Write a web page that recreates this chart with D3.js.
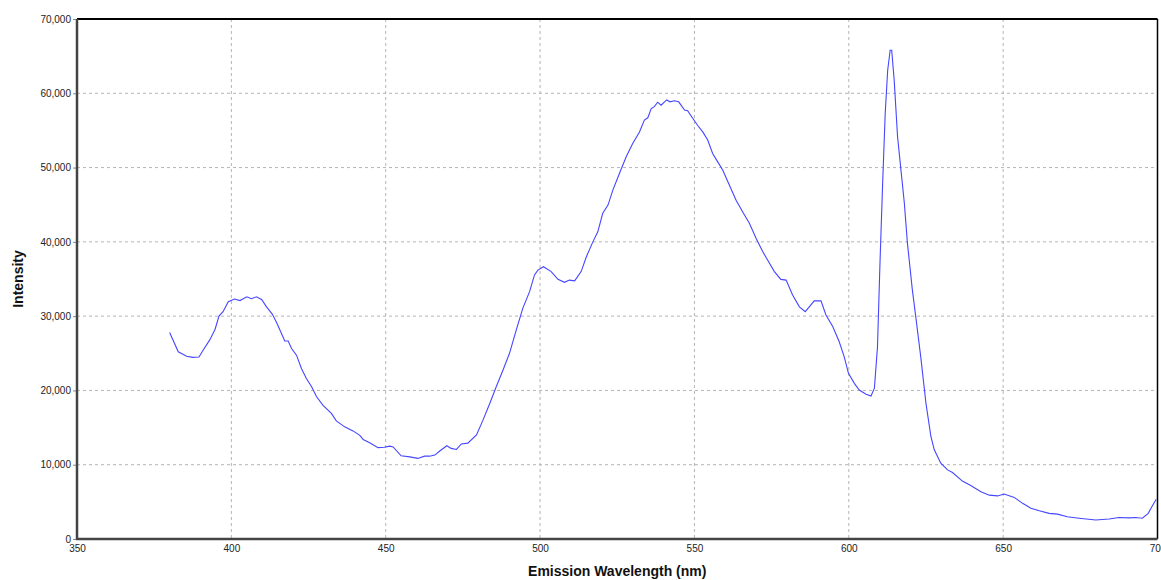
<!DOCTYPE html>
<html>
<head>
<meta charset="utf-8">
<script src="https://cdn.jsdelivr.net/npm/d3@7"></script>
<style>
  html, body { margin: 0; padding: 0; background: #fff; overflow: hidden; }
  svg { display: block; }
</style>
</head>
<body>
<div id="chart"></div>
<script>
// spectrum, wavelength (nm) / intensity
const wavelength = [
  380, 382.8, 385.5, 387.5, 389.5, 390.9, 393, 394.7, 396, 397.3, 399, 401, 402.8, 405, 406.5, 408.1,
  409.8, 411.4, 413.3, 414.8, 416.2, 417.3, 418.4, 419.5, 421.1, 422.7, 424.3, 426, 427.6, 429.7,
  432.4, 434, 436.7, 439.4, 441.6, 442.7, 444.8, 447.5, 449.5, 451.3, 452.4, 455, 457.8, 460.4,
  462.6, 464.2, 465.9, 467.5, 469.8, 471.2, 472.9, 474.5, 476.6, 479.4, 481.5, 483.7, 485.8, 488,
  490.1, 492.3, 494.4, 496.6, 498.2, 499.3, 501.1, 503.6, 505.8, 507.9, 509.5, 511.2, 513.3, 515,
  517.1, 518.7, 520.3, 522, 523.6, 525.7, 527.9, 530, 532.2, 533.8, 534.9, 536, 537, 538.1, 539.2,
  541, 542.1, 543.5, 544.9, 546.8, 547.8, 549.5, 551, 552.7, 554.3, 555.9, 557.5, 559.2, 561.3,
  563.5, 565.6, 567.8, 570, 572.1, 573.7, 575.9, 578, 579.7, 581.8, 584, 585.9, 587.2, 588.8, 591,
  592.6, 594.8, 596.9, 598.5, 599.9, 601.8, 603.4, 605.6, 607.2, 608.3, 609.3, 610.1, 611, 611.8,
  612.6, 613.4, 613.9, 614.7, 615.8, 616.9, 618, 619, 620.6, 621.7, 623.3, 625, 626.6, 627.7,
  629.8, 632, 633.6, 636.8, 639.5, 642.8, 645.5, 648.2, 650.3, 653.6, 656.3, 659, 661.7, 664.9,
  667.6, 670.8, 674.6, 680, 684.3, 687.5, 690.8, 692.9, 695.1, 697, 698.3, 699.6
]
const intensity = [
  27800, 25200, 24600, 24450, 24500, 25440, 26800, 28200, 30000, 30600, 31950, 32300, 32100, 32600, 32350, 32600,
  32250, 31250, 30250, 29000, 27700, 26650, 26650, 25650, 24750, 22950, 21600, 20500, 19150, 18000,
  16900, 15900, 15100, 14550, 13950, 13400, 12950, 12300, 12350, 12500, 12400, 11200, 11050, 10850,
  11150, 11150, 11300, 11850, 12550, 12200, 12050, 12800, 12900, 14000, 16000, 18250, 20500, 22750,
  25000, 28150, 31050, 33300, 35550, 36200, 36650, 36000, 34950, 34550, 34850, 34750, 36000, 38000,
  40000, 41350, 43850, 44950, 47000, 49200, 51450, 53250, 54800, 56400, 56700, 57950, 58200, 58800, 58400,
  59100, 58850, 59000, 58850, 57750, 57650, 56600, 55700, 54800, 53700, 51900, 50800, 49650, 47650,
  45600, 44050, 42500, 40450, 38700, 37550, 36000, 34950, 34850, 32850, 31250, 30600, 31250, 32050, 32050,
  30150, 28600, 26550, 24550, 22300, 20950, 20050, 19500, 19250, 20300, 25900, 37100, 48300, 57300,
  63100, 65800, 65800, 61800, 54150, 49650, 45200, 39800, 33500, 29900, 24550, 18250, 13800, 12000,
  10200, 9300, 8950, 7800, 7200, 6350, 5900, 5800, 6050, 5600, 4800, 4150, 3800, 3450,
  3350, 3000, 2800, 2550, 2700, 2900, 2850, 2900, 2800, 3450, 4450, 5350
]
const xTicks = [350, 400, 450, 500, 550, 600, 650, 700]
const yTicks = [0, 10000, 20000, 30000, 40000, 50000, 60000, 70000]

const width = 1161
const height = 580
const margin = {top: 19, right: 3.5, bottom: 41, left: 77}

const svg = d3.select('#chart')
  .append('svg')
  .attr('width', width)
  .attr('height', height)
  .style('font-family', 'Tahoma, "DejaVu Sans", sans-serif')

let x = d3.scaleLinear()
  .domain([350, 700])
  .range([margin.left, width - margin.right])

let y = d3.scaleLinear()
  .domain([0, 70000])
  .range([height - margin.bottom, margin.top])

//grid
svg.append('g')
  .selectAll('line')
  .data(xTicks.slice(1, -1))
  .enter().append('line')
  .attr('x1', d => x(d)).attr('x2', d => x(d))
  .attr('y1', y(70000)).attr('y2', y(0))
  .attr('stroke', '#b4b4b4')
  .attr('stroke-dasharray', '3,3')

svg.append('g')
  .selectAll('line')
  .data(yTicks.slice(1, -1))
  .enter().append('line')
  .attr('x1', x(350)).attr('x2', x(700))
  .attr('y1', d => y(d)).attr('y2', d => y(d))
  .attr('stroke', '#b4b4b4')
  .attr('stroke-dasharray', '3,3')

//axes
let yAxis = svg.append('g')
  .attr('transform', `translate(${margin.left},0)`)
  .call(d3.axisLeft(y).tickValues(yTicks).tickSize(4).tickPadding(2).tickFormat(d3.format(',')))
yAxis.select('.domain').remove()
yAxis.selectAll('line').attr('stroke', '#888')
yAxis.selectAll('text').attr('font-size', '10px').attr('fill', '#222')

let xAxis = svg.append('g')
  .attr('transform', `translate(0,${height - margin.bottom})`)
  .call(d3.axisBottom(x).tickValues(xTicks).tickSize(0).tickPadding(6))
xAxis.select('.domain').remove()
xAxis.selectAll('text').attr('font-size', '10px').attr('fill', '#222')

//frame
svg.append('line')
  .attr('x1', x(350)).attr('x2', x(700))
  .attr('y1', y(70000)).attr('y2', y(70000))
  .attr('stroke', '#000').attr('stroke-width', 2)
svg.append('line')
  .attr('x1', x(700)).attr('x2', x(700))
  .attr('y1', y(70000)).attr('y2', y(0))
  .attr('stroke', '#000').attr('stroke-width', 1.5)
svg.append('line')
  .attr('x1', x(350)).attr('x2', x(350))
  .attr('y1', y(70000)).attr('y2', y(0))
  .attr('stroke', '#444').attr('stroke-width', 2.5)
svg.append('line')
  .attr('x1', x(350) - 1).attr('x2', x(700))
  .attr('y1', y(0)).attr('y2', y(0))
  .attr('stroke', '#444').attr('stroke-width', 2.5)

//spectrum
let line = d3.line()
  .x((d, i) => x(wavelength[i]))
  .y(d => y(d))

svg.append('path')
  .datum(intensity)
  .attr('fill', 'none')
  .attr('stroke', '#4646ff')
  .attr('stroke-width', 1.1)
  .attr('d', line)

//labels
svg.append('text')
  .attr('x', (x(350) + x(700)) / 2)
  .attr('y', 576)
  .attr('text-anchor', 'middle')
  .attr('font-family', 'Arial, "Liberation Sans", sans-serif')
  .attr('font-weight', 'bold')
  .attr('font-size', '14px')
  .attr('fill', '#111')
  .text('Emission Wavelength (nm)')

svg.append('text')
  .attr('transform', `translate(23,${(y(0) + y(70000)) / 2}) rotate(-90)`)
  .attr('text-anchor', 'middle')
  .attr('font-family', 'Arial, "Liberation Sans", sans-serif')
  .attr('font-weight', 'bold')
  .attr('font-size', '14px')
  .attr('fill', '#111')
  .text('Intensity')
</script>
</body>
</html>
